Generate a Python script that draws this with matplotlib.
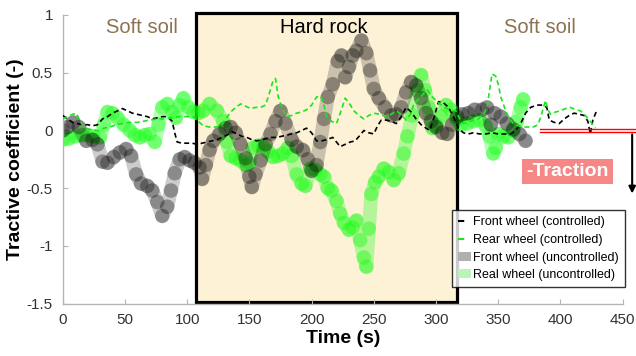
import matplotlib
matplotlib.use("Agg")
import matplotlib.pyplot as plt
from matplotlib.lines import Line2D
from matplotlib.patches import Patch, Rectangle

plt.rcParams['font.family'] = ['Liberation Sans', 'DejaVu Sans']

# ---- data -------------------------------------------------------------
front_unc_t = [0, 4, 8.5, 13, 19, 24, 28, 32, 36, 41, 46, 51, 55, 59, 63, 68, 72, 76, 80, 84,
               87, 90, 94, 98, 102, 106, 110, 112, 115, 118, 121, 126, 131, 135, 139, 143, 147,
               150, 152, 155, 159, 163, 167, 171, 175, 179, 184, 188, 193, 197, 200, 204, 207,
               210, 213, 217, 221, 224, 227, 230, 233, 236, 240, 244, 247, 250, 254, 259, 264,
               268, 272, 276, 280, 284, 288, 292, 296, 300, 305, 309, 313, 317, 321, 326, 331,
               337, 341, 344, 347, 352, 357, 362, 367, 372]
front_unc_v = [0.0, 0.03, 0.07, 0.03, -0.09, -0.08, -0.12, -0.27, -0.28, -0.23, -0.19, -0.16,
               -0.22, -0.38, -0.46, -0.48, -0.52, -0.62, -0.74, -0.66, -0.52, -0.37, -0.25,
               -0.23, -0.26, -0.28, -0.32, -0.42, -0.3, -0.17, -0.09, -0.03, 0.02, 0.03, -0.02,
               -0.12, -0.24, -0.4, -0.49, -0.38, -0.26, -0.12, -0.03, 0.08, 0.17, 0.06, -0.08,
               -0.14, -0.17, -0.25, -0.35, -0.3, -0.1, 0.1, 0.29, 0.4, 0.6, 0.65, 0.46, 0.55,
               0.65, 0.69, 0.78, 0.67, 0.52, 0.36, 0.28, 0.2, 0.13, 0.14, 0.2, 0.33, 0.42, 0.39,
               0.28, 0.15, 0.08, 0.03, -0.02, -0.03, 0.05, 0.12, 0.14, 0.15, 0.18, 0.18, 0.2,
               0.05, 0.15, 0.12, 0.06, 0.01, -0.03, -0.09]

rear_unc_t = [0, 5, 10, 15, 20, 25, 30, 33, 36, 40, 44, 49, 54, 58, 62, 66, 70, 74, 77, 80, 84,
              88, 91, 94, 97, 101, 105, 109, 113, 118, 124, 129, 132, 135, 139, 143, 147, 150,
              153, 157, 161, 165, 169, 173, 177, 181, 184, 188, 192, 195, 199, 203, 207, 210,
              213, 216, 220, 223, 226, 230, 233, 236, 239, 242, 244, 246, 248, 251, 254, 258,
              262, 266, 270, 274, 277, 281, 285, 288, 291, 294, 297, 300, 304, 308, 312, 316,
              320, 325, 330, 335, 340, 343, 346, 348, 350, 354, 358, 362, 365, 368, 370]
rear_unc_v = [-0.08, -0.07, -0.05, -0.04, -0.04, -0.05, -0.06, 0.05, 0.16, 0.15, 0.11, 0.05,
              0.0, -0.04, -0.06, -0.04, -0.03, -0.1, 0.05, 0.2, 0.23, 0.16, 0.11, 0.22, 0.28,
              0.2, 0.16, 0.15, 0.17, 0.23, 0.17, 0.08, -0.1, -0.22, -0.24, -0.26, -0.3, -0.28,
              -0.15, -0.13, -0.14, -0.18, -0.23, -0.22, -0.2, -0.15, -0.22, -0.38, -0.46, -0.48,
              -0.33, -0.34, -0.38, -0.4, -0.5, -0.52, -0.61, -0.72, -0.8, -0.86, -0.84, -0.78,
              -0.95, -1.1, -1.18, -0.85, -0.55, -0.45, -0.4, -0.33, -0.36, -0.43, -0.37, -0.2,
              -0.05, 0.13, 0.35, 0.48, 0.35, 0.2, 0.02, 0.05, 0.12, 0.22, 0.18, 0.1, 0.05, 0.06,
              0.08, 0.09, 0.04, -0.05, -0.2, -0.15, -0.03, -0.05, -0.06, 0.0, 0.08, 0.2, 0.27]

front_ctrl_t = [0, 4, 8, 12, 16, 20, 24, 28, 32, 36, 40, 44, 48, 52, 56, 60, 64, 68, 72, 76, 80,
                84, 88, 90, 92, 96, 100, 104, 108, 112, 116, 120, 124, 128, 132, 136, 140, 144,
                148, 152, 156, 160, 164, 168, 172, 176, 180, 184, 188, 192, 196, 200, 204, 208,
                212, 217, 220, 223, 227, 231, 235, 239, 242, 246, 250, 253, 256, 260, 264, 268,
                272, 276, 280, 284, 288, 292, 295, 298, 302, 306, 310, 314, 318, 322, 326, 330,
                335, 340, 345, 350, 355, 360, 364, 368, 372, 376, 381, 386, 389, 391, 395, 399,
                403, 407, 411, 415, 419, 422, 424, 426, 429]
front_ctrl_v = [0.13, 0.1, 0.07, 0.06, 0.05, 0.05, 0.04, 0.05, 0.1, 0.12, 0.15, 0.17, 0.19,
                0.17, 0.15, 0.14, 0.13, 0.12, 0.1, 0.11, 0.12, 0.12, 0.08, -0.02, -0.1, -0.11,
                -0.11, -0.11, -0.12, -0.11, -0.1, -0.09, -0.08, -0.06, -0.04, -0.01, -0.03,
                -0.05, -0.06, -0.08, -0.09, -0.08, -0.07, -0.06, -0.06, -0.05, -0.04, -0.03,
                -0.02, 0.0, 0.02, -0.02, -0.09, -0.09, -0.08, -0.06, -0.1, -0.14, -0.12, -0.1,
                -0.09, -0.04, 0.0, -0.02, -0.03, 0.04, 0.09, 0.09, 0.08, 0.06, 0.12, 0.2, 0.16,
                0.1, 0.05, 0.02, 0.0, 0.1, 0.25, 0.24, 0.2, 0.12, 0.02, -0.02, -0.03, -0.02,
                -0.03, -0.03, -0.02, -0.03, -0.03, -0.03, 0.0, 0.06, 0.15, 0.2, 0.22, 0.22, 0.2,
                0.09, 0.07, 0.06, 0.1, 0.13, 0.15, 0.14, 0.13, 0.08, -0.03, 0.09, 0.17]

rear_ctrl_t = [0, 4, 8, 11, 14, 17, 21, 25, 29, 33, 38, 43, 48, 54, 60, 65, 70, 76, 82, 88, 94,
               100, 105, 109, 113, 118, 123, 127, 131, 135, 139, 143, 147, 151, 155, 159, 163,
               166, 169, 171, 173, 176, 180, 184, 188, 192, 196, 200, 204, 207, 209, 212, 216,
               220, 224, 227, 230, 234, 238, 242, 246, 250, 255, 260, 264, 268, 272, 276, 280,
               282, 286, 290, 293, 296, 300, 303, 307, 311, 316, 319, 322, 326, 330, 334, 338,
               341, 343, 345, 348, 350, 352, 355, 358, 362, 366, 370, 374, 378, 382, 385, 388,
               390, 392, 396, 400, 404, 408, 412, 416, 420, 424, 428]
rear_ctrl_v = [0.1, 0.12, 0.14, 0.15, 0.08, 0.03, 0.01, 0.0, 0.0, 0.02, 0.03, 0.05, 0.06, 0.07,
               0.07, 0.08, 0.09, 0.1, 0.1, 0.11, 0.12, 0.12, 0.12, 0.08, 0.04, 0.03, 0.03, 0.04,
               0.1, 0.16, 0.2, 0.23, 0.21, 0.19, 0.2, 0.2, 0.22, 0.32, 0.43, 0.45, 0.3, 0.2,
               0.12, 0.13, 0.15, 0.16, 0.18, 0.22, 0.29, 0.3, 0.26, 0.12, 0.08, 0.06, 0.18, 0.28,
               0.24, 0.17, 0.13, 0.1, 0.13, 0.15, 0.14, 0.12, 0.14, 0.17, 0.14, 0.09, 0.15,
               0.23, 0.27, 0.32, 0.35, 0.3, 0.26, 0.23, 0.2, 0.18, 0.17, 0.1, 0.06, 0.07, 0.09,
               0.1, 0.14, 0.2, 0.35, 0.49, 0.47, 0.4, 0.29, 0.2, 0.12, 0.06, 0.04, 0.03, 0.03,
               0.03, 0.05, 0.15, 0.26, 0.18, 0.14, 0.16, 0.17, 0.19, 0.2, 0.18, 0.17, 0.13,
               0.08, 0.02]

x_ticks = [0, 50, 100, 150, 200, 250, 300, 350, 400, 450]
y_ticks = [-1.5, -1, -0.5, 0, 0.5, 1]
y_ticklabels = ['-1.5', '-1', '-0.5', '0', '0.5', '1']

hard_rock_span = (107, 317)
legend_labels = ['Front wheel (controlled)', 'Rear wheel (controlled)',
                 'Front wheel (uncontrolled)', 'Real wheel (uncontrolled)']

# ---- figure -----------------------------------------------------------
fig = plt.figure(figsize=(6.36, 3.56), dpi=100)
ax = fig.add_axes([62.7 / 636, 1 - 303.7 / 356, 560 / 636, 288.7 / 356])
ax.set_xlim(0, 450)
ax.set_ylim(-1.5, 1)

# hard rock region
ax.add_patch(Rectangle((hard_rock_span[0], -1.485), hard_rock_span[1] - hard_rock_span[0],
                       1.015 + 1.485, facecolor='#fdf1d6', edgecolor='black',
                       linewidth=2.3, zorder=0.5, clip_on=False))

green = (0.05, 1.0, 0.05)
# uncontrolled (thick, semi-transparent)
ax.plot(rear_unc_t, rear_unc_v, color=green, lw=10, alpha=0.3,
        solid_capstyle='round', solid_joinstyle='round', zorder=2)
ax.scatter(rear_unc_t, rear_unc_v, s=110, color=green, alpha=0.4, edgecolors='none', zorder=2)
ax.plot(front_unc_t, front_unc_v, color='black', lw=10, alpha=0.2,
        solid_capstyle='round', solid_joinstyle='round', zorder=2.5)
ax.scatter(front_unc_t, front_unc_v, s=110, color='black', alpha=0.32, edgecolors='none',
           zorder=2.5)

# controlled (dashed)
ax.plot(front_ctrl_t, front_ctrl_v, color='black', lw=1.2, dashes=(3, 2), zorder=3)
ax.plot(rear_ctrl_t, rear_ctrl_v, color=(0.1, 0.9, 0.1), lw=1.2, dashes=(3, 2), zorder=3)

# axes styling
for s in ['top', 'right']:
    ax.spines[s].set_visible(False)
for s in ['left', 'bottom']:
    ax.spines[s].set_color('#b5b5b5')
    ax.spines[s].set_linewidth(1.0)
ax.set_xticks(x_ticks)
ax.set_xticklabels([str(v) for v in x_ticks])
ax.set_yticks(y_ticks)
ax.set_yticklabels(y_ticklabels)
ax.tick_params(direction='in', length=3.5, color='#b5b5b5', labelsize=11,
               labelcolor='#333333', pad=7)
ax.set_xlabel('Time (s)', fontsize=14, fontweight='bold', labelpad=2)
ax.set_ylabel('Tractive coefficient (-)', fontsize=14, fontweight='bold', labelpad=2)

# region labels
ax.text(63.7, 0.89, 'Soft soil', fontsize=14.5, color='#8c7350', ha='center', va='center')
ax.text(210, 0.89, 'Hard rock', fontsize=14.5, color='black', ha='center', va='center')
ax.text(383.7, 0.89, 'Soft soil', fontsize=14.5, color='#8c7350', ha='center', va='center')

# traction annotation
ax.plot([383.7, 461], [0.013, 0.013], color='red', lw=1.0, clip_on=False, zorder=4)
ax.plot([383.7, 461], [-0.013, -0.013], color='red', lw=1.0, clip_on=False, zorder=4)
ax.annotate('', xy=(457.6, -0.57), xytext=(457.6, -0.01), annotation_clip=False,
            arrowprops=dict(arrowstyle='-|>', color='black', lw=1.5, mutation_scale=10))
ax.text(405.6, -0.355, '-Traction', fontsize=14, fontweight='bold', color='white',
        ha='center', va='center', zorder=5,
        bbox=dict(boxstyle='square,pad=0.2', facecolor='#f58787', edgecolor='none'))

# legend
handles = [Line2D([0], [0], color='black', lw=1.5, dashes=(3, 20)),
           Line2D([0], [0], color=(0.1, 0.9, 0.1), lw=1.5, dashes=(3, 20)),
           Patch(facecolor='#b0b0b0', edgecolor='none'),
           Patch(facecolor='#b8f5b8', edgecolor='none')]
leg = ax.legend(handles, legend_labels, loc='upper left',
                bbox_to_anchor=(452 / 636, 1 - 210 / 356), bbox_transform=fig.transFigure,
                fontsize=9, frameon=True, fancybox=False, edgecolor='black',
                handlelength=1.0, handletextpad=0.15, labelspacing=0.45,
                borderpad=0.5, borderaxespad=0)
leg.get_frame().set_linewidth(1.0)
leg.set_zorder(6)

fig.savefig('out.png', dpi=100)
